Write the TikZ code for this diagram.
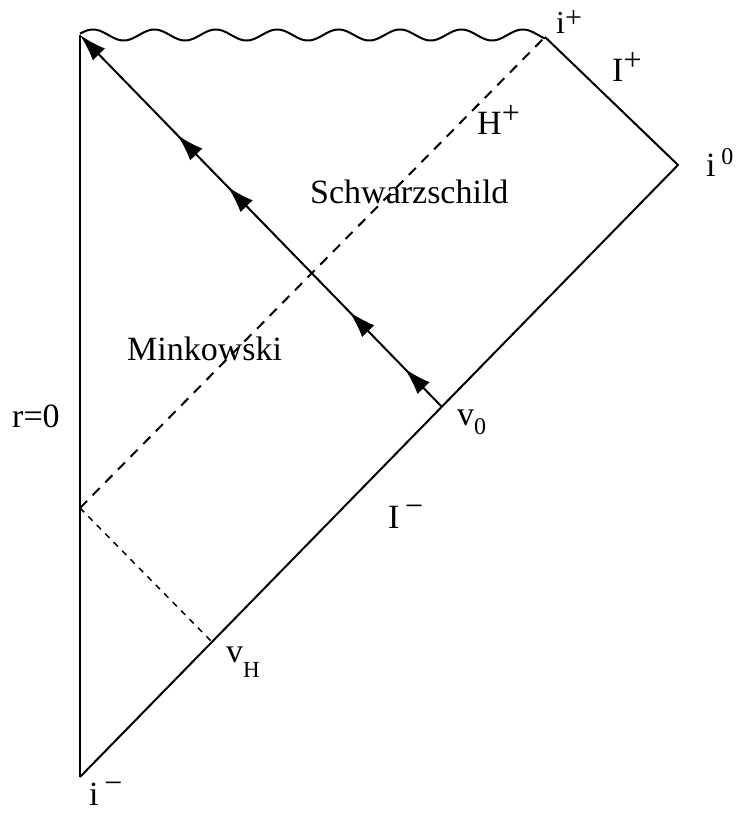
\documentclass[tikz,border=0pt]{standalone}
\usepackage{fontspec}
\setmainfont{Liberation Serif}
\usetikzlibrary{arrows.meta,decorations.markings}
\newcommand{\supx}[1]{\raisebox{11.5pt}{\fontsize{32}{34}\selectfont #1}}
\newcommand{\subx}[2]{\raisebox{-#2}{\fontsize{24}{28}\selectfont #1}}
\begin{document}
\begin{tikzpicture}[x=1pt,y=-1pt,
  edge/.style={line width=2pt},
  lbl/.style={font=\fontsize{34}{40}\selectfont, inner sep=0pt, anchor=base west},
  >={Latex[length=27pt,width=17pt]}]
\useasboundingbox (0,0) rectangle (738,813);
% points
\coordinate (top) at (80,35);
\coordinate (im) at (80,777);
\coordinate (ip) at (545,37);
\coordinate (i0) at (678,165);
\coordinate (v0) at (442,407);
\coordinate (vH) at (212,642);
\coordinate (hb) at (80,508);
% boundaries
\draw[line width=2.6pt] (top) -- (im);
\draw[edge, line join=miter] (im) -- (i0) -- (ip);
\draw[edge] plot[domain=80:545, samples=240, smooth] (\x,{35-5.5*cos(5.8632*(\x-93))});
% horizon and null ray
\draw[edge, dash pattern=on 10pt off 8pt] (hb) -- (ip);
\draw[line width=1.5pt, dash pattern=on 6pt off 6pt] (hb) -- (vH);
% ingoing ray with arrows
\draw[edge, ->, postaction={decorate}, decoration={markings,
   mark=at position 0.103 with {\arrow{>}},
   mark=at position 0.256 with {\arrow{>}},
   mark=at position 0.592 with {\arrow{>}},
   mark=at position 0.731 with {\arrow{>}}}] (v0) -- (top);
% labels
\node[lbl, font=\fontsize{32}{36}\selectfont] (lip) at (556,34) {i\raisebox{6pt}{\fontsize{30}{32}\selectfont +}};
\node[lbl] (lIp) at (612,82) {I\supx{+}};
\node[lbl] (lH) at (477,135) {H\supx{+}};
\node[lbl] (li0) at (706,177) {i\,\raisebox{13pt}{\fontsize{24}{28}\selectfont 0}};
\node[lbl] (lS) at (310,203) {Schwarzschild};
\node[lbl] (lM) at (127,360) {Minkowski};
\node[lbl] (lr) at (12,427) {r=0};
\node[lbl] (lv0) at (457,425) {v\subx{0}{9pt}};
\node[lbl] (lIm) at (388,528) {I\,\supx{−}};
\node[lbl] (lvH) at (226,662) {v\subx{\fontsize{23}{25}\selectfont H}{15pt}};
\node[lbl] (lim) at (89,805) {i\,\supx{−}};
\end{tikzpicture}
\end{document}
